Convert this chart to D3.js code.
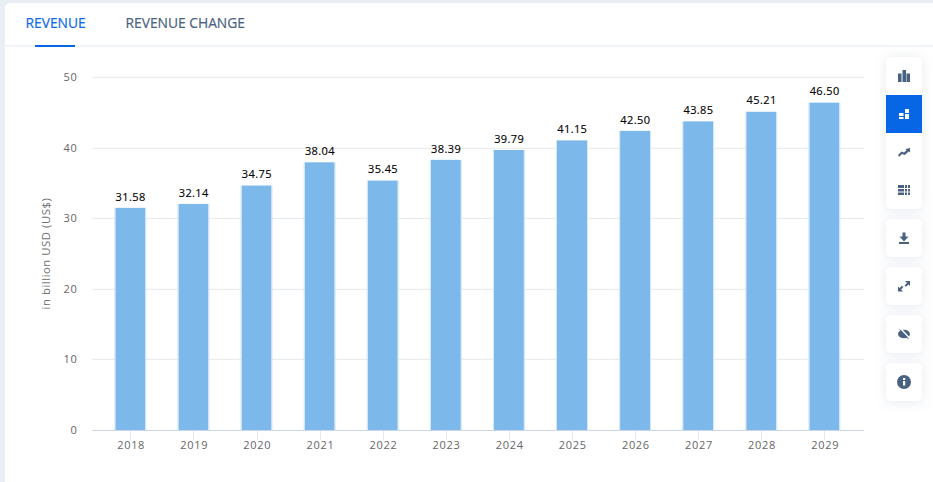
<!DOCTYPE html>
<html>
<head>
<meta charset="utf-8">
<script src="https://cdn.jsdelivr.net/npm/d3@7/dist/d3.min.js"></script>
<style>
html,body{margin:0;padding:0;background:#fff;width:933px;height:482px;overflow:hidden}
text{font-family:"Open Sans",sans-serif}
</style>
</head>
<body>
<svg id="c" width="933" height="482"></svg>
<script>
const years = ["2018","2019","2020","2021","2022","2023","2024","2025","2026","2027","2028","2029"];
const revenue = [31.58,32.14,34.75,38.04,35.45,38.39,39.79,41.15,42.50,43.85,45.21,46.50];
const yTicks = [0,10,20,30,40,50];
const tabs = ["REVENUE","REVENUE CHANGE"];
const yTitle = "in billion USD (US$)";

const svg = d3.select("#c");
const defs = svg.append("defs");
const f = defs.append("filter").attr("id","sh").attr("x","-60%").attr("y","-40%").attr("width","220%").attr("height","180%");
f.append("feDropShadow").attr("dx",0).attr("dy",1).attr("stdDeviation",6).attr("flood-color","#8090b0").attr("flood-opacity",0.2);

svg.append("rect").attr("width",933).attr("height",482).attr("fill","#e9edf4");
svg.append("rect").attr("x",5).attr("y",3).attr("width",940).attr("height",500).attr("rx",5).attr("fill","#fff");
svg.append("rect").attr("x",5).attr("y",45).attr("width",928).attr("height",2).attr("fill","#f1f4f8");

// tabs
svg.append("text").attr("x",25.5).attr("y",28).attr("font-size",13.8).attr("stroke","#0f6ae8").attr("stroke-width",0.2).attr("fill","#0f6ae8").text(tabs[0]);
svg.append("text").attr("x",125.5).attr("y",28).attr("font-size",13.8).attr("stroke","#4a6282").attr("stroke-width",0.2).attr("fill","#4a6282").text(tabs[1]);
svg.append("rect").attr("x",35).attr("y",45).attr("width",40).attr("height",2).attr("fill","#0666e5");

const x = d3.scaleBand().domain(years).range([98.8,855.9]).paddingInner(0.5245).paddingOuter(0.2622);
const y = d3.scaleLinear().domain([0,50]).range([430,77.5]);

// grid + y labels
const left = 92, right = 864;
svg.append("g").selectAll("line").data(yTicks.filter(d=>d>0)).join("line")
  .attr("x1",left).attr("x2",right).attr("y1",d=>Math.floor(y(d))+0.3).attr("y2",d=>Math.floor(y(d))+0.3)
  .attr("stroke","#e6e8ec");
svg.append("g").selectAll("text").data(yTicks).join("text")
  .attr("x",77.5).attr("y",d=>y(d)+3.5).attr("text-anchor","end")
  .attr("font-size",11).attr("letter-spacing",0.7).attr("fill","#666").text(d=>d);

svg.append("text").attr("transform","translate(50,253.5) rotate(-90)").attr("text-anchor","middle")
  .attr("font-size",11.3).attr("letter-spacing",0.55).attr("fill","#707070").text(yTitle);

// x ticks
const cx = d=>x(d)+x.bandwidth()/2;
svg.append("g").selectAll("line").data(years).join("line")
  .attr("x1",d=>Math.round(cx(d))+0.5).attr("x2",d=>Math.round(cx(d))+0.5).attr("y1",430).attr("y2",440)
  .attr("stroke","#e3e8f5");
svg.append("g").selectAll("text").data(years).join("text")
  .attr("x",d=>cx(d)+0.8).attr("y",449).attr("text-anchor","middle")
  .attr("font-size",11).attr("letter-spacing",0.7).attr("fill","#666").text(d=>d);

// bars
svg.append("g").selectAll("rect").data(years).join("rect")
  .attr("x",d=>x(d)).attr("width",x.bandwidth())
  .attr("y",(d,i)=>y(revenue[i])+0.5).attr("height",(d,i)=>430-y(revenue[i])-0.5)
  .attr("fill","#7cb9ea");
svg.append("g").selectAll("path").data(years).join("path")
  .attr("d",(d,i)=>`M${x(d)-0.5} ${y(revenue[i])+0.5}V430M${x(d)+x.bandwidth()+0.5} ${y(revenue[i])+0.5}V430`)
  .attr("fill","none").attr("stroke","#d3e6fa").attr("stroke-width",1);

svg.append("line").attr("x1",left).attr("x2",right).attr("y1",430.5).attr("y2",430.5).attr("stroke","#ccd6eb");

// value labels
svg.append("g").selectAll("text").data(years).join("text")
  .attr("x",d=>cx(d)+0.3).attr("y",(d,i)=>y(revenue[i])-6.8).attr("text-anchor","middle")
  .attr("font-size",11).attr("letter-spacing",0.4).attr("fill","#000").attr("stroke","#000").attr("stroke-width",0.15)
  .text((d,i)=>revenue[i].toFixed(2));

// toolbar
const ic = "#4a6282";
const panelGroups = [[57,152],[219,38],[267,38],[315,38],[363,38]];
svg.append("g").selectAll("rect").data(panelGroups).join("rect")
  .attr("x",886).attr("y",d=>d[0]).attr("width",36).attr("height",d=>d[1]).attr("rx",5)
  .attr("fill","#fff").attr("filter","url(#sh)");
svg.append("rect").attr("x",886).attr("y",95).attr("width",36).attr("height",38).attr("fill","#0666e5");

const icon = (fn,c)=>{const g=svg.append("g").attr("fill",c||ic);fn(g);return g;};
const R=(g,a,b,w,h)=>g.append("rect").attr("x",a).attr("y",b).attr("width",w).attr("height",h);
const P=(g,d)=>g.append("path").attr("d",d);

// bar chart
icon(g=>{R(g,898,73.5,3.5,8.5);R(g,902.5,70,3.5,12);R(g,906.5,73.5,3.5,8.5);});
// stacked blocks
icon(g=>{R(g,899,113,4.5,3);R(g,899,117,4.5,2);R(g,905,109,4,4);R(g,905,114,4,5);},"#fff");
// trend
icon(g=>{P(g,"M898 155 L901.5 151.5 L904 152.5 L906.5 150.2 L905.5 149 L910 148 L910 152.5 L908.7 151.5 L904.8 155 L902 154 L899.2 156.8Z");});
// table
icon(g=>{R(g,898,185,6,3);R(g,898,189,6,2.5);R(g,898,192.5,6,2.5);
  [905,908].forEach(a=>{R(g,a,185,2,3);R(g,a,189,2,2.5);R(g,a,192.5,2,2.5);});});
// download
icon(g=>{P(g,"M902.5 232.5h3v4h3l-4.5 5-4.5-5h3z");R(g,899,242,10,2);});
// expand
icon(g=>{P(g,"M905 281h5v5l-1.6-1.6-2.4 2.4-1.4-1.4 2.4-2.4z");P(g,"M903 291.5h-5v-5l1.6 1.6 2.4-2.4 1.4 1.4-2.4 2.4z");});
// hidden eye
icon(g=>{g.append("ellipse").attr("cx",904).attr("cy",334).attr("rx",6).attr("ry",4.3);
  g.append("line").attr("x1",900.5).attr("y1",328.5).attr("x2",909.5).attr("y2",338).attr("stroke","#fff").attr("stroke-width",1.4);
  g.append("line").attr("x1",899.5).attr("y1",329.5).attr("x2",908.5).attr("y2",339).attr("stroke",ic).attr("stroke-width",0.9);});
// info
icon(g=>{g.append("circle").attr("cx",904).attr("cy",382).attr("r",7);
  g.append("rect").attr("x",903).attr("y",381).attr("width",2.2).attr("height",4.5).attr("fill","#fff");
  g.append("rect").attr("x",903).attr("y",378).attr("width",2.2).attr("height",2).attr("fill","#fff");});
</script>
</body>
</html>
